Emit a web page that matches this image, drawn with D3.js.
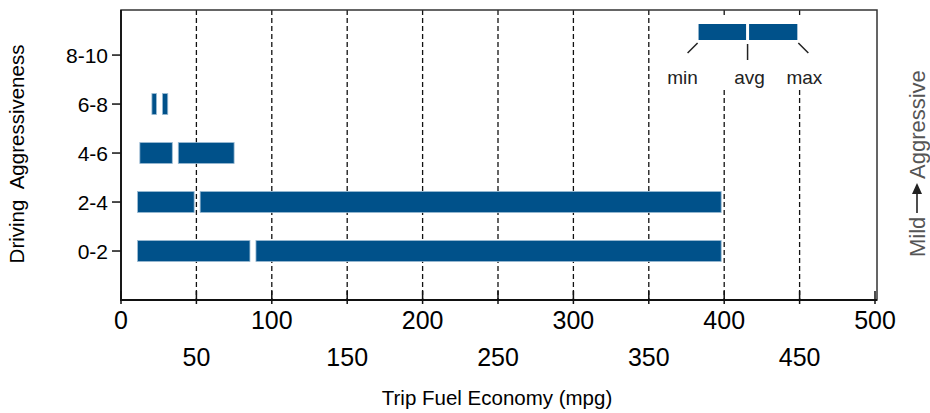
<!DOCTYPE html>
<html>
<head>
<meta charset="utf-8">
<script src="https://cdn.jsdelivr.net/npm/d3@7"></script>
<style>
	body { margin: 0; background: #fff; }
	svg { font-family: "Liberation Sans", Arial, sans-serif; }
</style>
</head>
<body>
<div id="chart"></div>
<script>
	"use strict";

	// driving aggressiveness bins, bottom to top
	var categories = ["0-2", "2-4", "4-6", "6-8", "8-10"];
	var minMpg = [11, 11, 12.5, 20.5, null];
	var avgMpg = [87.5, 50.5, 36, 25.5, null];
	var maxMpg = [398, 398, 75, 31, null];

	var evenTicks = [0, 100, 200, 300, 400, 500];
	var oddTicks = [50, 150, 250, 350, 450];

	// legend sample bar, drawn in mpg units
	var legendBar = [383, 415.5, 448.5];
	var legendLabels = ["min", "avg", "max"];

	var width = 930, height = 413;
	var mLeft = 121, mRight = 875, mTop = 10, mBottom = 300;
	var blue = "#00518a";

	var svg = d3.select("#chart").append("svg")
		.attr("width", width)
		.attr("height", height);

	var x = d3.scaleLinear().domain([0, 500]).range([mLeft, mRight]);
	var y = d3.scaleLinear().domain([0, 5.92]).range([mBottom, mTop]);

	var rows = categories.map(function(c, i) {
		return { cat: c, pos: i + 1, min: minMpg[i], avg: avgMpg[i], max: maxMpg[i] };
	});

	// dashed grid
	svg.append("g").selectAll("line")
		.data(oddTicks.concat(evenTicks.slice(1, 5)))
		.enter().append("line")
		.attr("x1", function(d) { return x(d); })
		.attr("x2", function(d) { return x(d); })
		.attr("y1", mTop)
		.attr("y2", mBottom)
		.attr("stroke", "#111")
		.attr("stroke-width", 1.3)
		.attr("stroke-dasharray", "5,3");

	// legend background hides grid
	svg.append("rect")
		.attr("x", x(352))
		.attr("y", 18)
		.attr("width", mRight - x(352) - 1)
		.attr("height", 72)
		.attr("fill", "#fff");

	// frame
	svg.append("rect")
		.attr("x", mLeft)
		.attr("y", mTop)
		.attr("width", mRight - mLeft + 2)
		.attr("height", mBottom - mTop)
		.attr("fill", "none")
		.attr("stroke", "#333")
		.attr("stroke-width", 1.5);

	// bars: min->avg and avg->max with a gap
	var gap = 3;
	var barH = 21;
	var bars = svg.append("g");
	rows.forEach(function(d) {
		if (d.min == null) return;
		var cy = y(d.pos);
		bars.append("rect")
			.attr("x", x(d.min))
			.attr("y", cy - barH / 2)
			.attr("width", x(d.avg) - x(d.min) - gap)
			.attr("height", barH)
			.attr("fill", blue)
			.attr("stroke", "#9bbbd3")
			.attr("stroke-width", 0.8);
		bars.append("rect")
			.attr("x", x(d.avg) + gap)
			.attr("y", cy - barH / 2)
			.attr("width", x(d.max) - x(d.avg) - gap)
			.attr("height", barH)
			.attr("fill", blue)
			.attr("stroke", "#9bbbd3")
			.attr("stroke-width", 0.8);
	});

	// y axis
	var yAxis = svg.append("g");
	yAxis.append("line")
		.attr("x1", mLeft).attr("x2", mLeft)
		.attr("y1", mTop).attr("y2", mBottom)
		.attr("stroke", "#111").attr("stroke-width", 1.8);
	yAxis.selectAll(".tk").data(rows).enter().append("line")
		.attr("x1", mLeft - 9).attr("x2", mLeft)
		.attr("y1", function(d) { return y(d.pos); })
		.attr("y2", function(d) { return y(d.pos); })
		.attr("stroke", "#111").attr("stroke-width", 1.5);
	yAxis.selectAll("text").data(rows).enter().append("text")
		.attr("x", mLeft - 13)
		.attr("y", function(d) { return y(d.pos); })
		.attr("dy", "0.36em")
		.attr("text-anchor", "end")
		.attr("font-size", 21)
		.text(function(d) { return d.cat; });

	// x axis
	var xAxis = svg.append("g");
	xAxis.append("line")
		.attr("x1", mLeft - 1).attr("x2", mRight + 2)
		.attr("y1", mBottom).attr("y2", mBottom)
		.attr("stroke", "#111").attr("stroke-width", 2);
	xAxis.selectAll(".tk").data(evenTicks.concat(oddTicks)).enter().append("line")
		.attr("x1", function(d) { return x(d); })
		.attr("x2", function(d) { return x(d); })
		.attr("y1", mBottom - 9).attr("y2", mBottom + 4)
		.attr("stroke", "#111").attr("stroke-width", 1.5);
	xAxis.selectAll(".ev").data(evenTicks).enter().append("text")
		.attr("x", function(d) { return x(d); })
		.attr("y", 329)
		.attr("text-anchor", "middle")
		.attr("font-size", 25)
		.text(function(d) { return d; });
	xAxis.selectAll(".od").data(oddTicks).enter().append("text")
		.attr("x", function(d) { return x(d); })
		.attr("y", 366)
		.attr("text-anchor", "middle")
		.attr("font-size", 25)
		.text(function(d) { return d; });

	svg.append("text")
		.attr("x", 497)
		.attr("y", 405)
		.attr("text-anchor", "middle")
		.attr("font-size", 20.5)
		.text("Trip Fuel Economy (mpg)");

	svg.append("text")
		.attr("transform", "translate(24,154) rotate(-90)")
		.attr("text-anchor", "middle")
		.attr("font-size", 20.5)
		.attr("xml:space", "preserve")
		.text("Driving  Aggressiveness");

	// right side label
	var side = svg.append("g")
		.attr("transform", "translate(925,155) rotate(-90)")
		.attr("fill", "#555");
	side.append("text")
		.attr("x", -102)
		.attr("font-size", 22)
		.text("Mild");
	side.append("line")
		.attr("x1", -58).attr("x2", -38)
		.attr("y1", -8).attr("y2", -8)
		.attr("stroke", "#222").attr("stroke-width", 1.6);
	side.append("path")
		.attr("d", "M-28,-8 L-39,-13 L-39,-3 Z")
		.attr("fill", "#222");
	side.append("text")
		.attr("x", -24)
		.attr("font-size", 22)
		.text("Aggressive");

	// legend
	var lg = svg.append("g");
	var ly = 32, lh = 16;
	lg.append("rect")
		.attr("x", x(legendBar[0]))
		.attr("y", ly - lh / 2)
		.attr("width", x(legendBar[1]) - x(legendBar[0]) - 1.5)
		.attr("height", lh)
		.attr("fill", blue);
	lg.append("rect")
		.attr("x", x(legendBar[1]) + 1.5)
		.attr("y", ly - lh / 2)
		.attr("width", x(legendBar[2]) - x(legendBar[1]) - 1.5)
		.attr("height", lh)
		.attr("fill", blue);
	lg.append("line")
		.attr("x1", x(legendBar[0]) - 1).attr("y1", 43)
		.attr("x2", x(legendBar[0]) - 11).attr("y2", 53)
		.attr("stroke", "#222").attr("stroke-width", 1.5);
	lg.append("line")
		.attr("x1", x(legendBar[1])).attr("y1", 44)
		.attr("x2", x(legendBar[1])).attr("y2", 60)
		.attr("stroke", "#222").attr("stroke-width", 1.5);
	lg.append("line")
		.attr("x1", x(legendBar[2]) + 1).attr("y1", 43)
		.attr("x2", x(legendBar[2]) + 11).attr("y2", 53)
		.attr("stroke", "#222").attr("stroke-width", 1.5);
	var lx = [x(legendBar[0]) - 16, x(legendBar[1]) + 2, x(legendBar[2]) + 7];
	lg.selectAll("text").data(legendLabels).enter().append("text")
		.attr("x", function(d, i) { return lx[i]; })
		.attr("y", 84)
		.attr("text-anchor", "middle")
		.attr("font-size", 19)
		.attr("fill", "#222")
		.text(function(d) { return d; });
</script>
</body>
</html>
